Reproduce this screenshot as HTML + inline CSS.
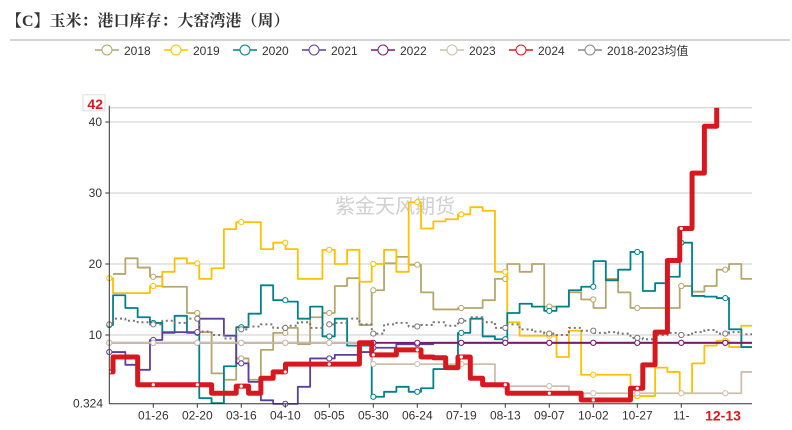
<!DOCTYPE html>
<html><head><meta charset="utf-8">
<style>
body{margin:0;background:#fff;width:792px;height:430px;overflow:hidden;font-family:"Liberation Sans","Noto Sans CJK SC",sans-serif;}
#title{position:absolute;left:6px;top:8px;font-size:16px;font-weight:bold;color:#333;font-family:"Liberation Serif","Noto Serif CJK SC",serif;}
</style></head><body>
<div id="title">【C】玉米：港口库存：大窑湾港（周）</div>
<svg id="chart" width="792" height="430" style="position:absolute;left:0;top:0"></svg>
<script>
const years=["2018","2019","2020","2021","2022","2023","2024","2018-2023均值"];
const colors=["#b5a66b","#ffc000","#00818a","#5b3fa0","#7a1a6e","#cdbfae","#d7191f","#777777"];
const s2018=[null,18.6,20.8,19.5,18.2,16.8,16.8,13.1,10.4,4.6,3.7,6.7,3.7,7.9,10.3,11,8.7,12.5,13.1,16.9,18,11.4,16.3,20.1,21,19.9,16,13.6,13.6,13.8,13.8,14.9,17.9,20,18.9,20,14,14,16,15,13.8,17.9,16,13.8,13.8,13.8,13.8,16.9,16.1,16.9,19.2,20,17.9];
const s2019=[18,15.9,15.9,15.9,16.9,18.9,20.8,20.1,17.9,19.4,24.9,25.9,25.9,22.1,23,22.1,17.9,17.9,22,20,22,17.5,20,22,18.9,28.7,25,26,26.3,27,28,27.5,18.9,11.8,9.9,9.9,9.9,6.9,10.6,4.4,4.4,4.4,4.4,1.4,1.4,5.4,4.8,1.8,6,8.5,9.2,8.3,11.3];
const s2020=[11.4,15.6,13.8,12.5,11.7,10.3,12.7,10.3,1.1,0.4,5.6,11.1,13,17,14.9,14.7,12.3,14,9.8,12.3,8.5,8.5,1.3,2,2.7,2,2.5,5.2,5.2,10.3,12.3,9.8,9.4,13.1,14.4,14,13.4,14,16.3,16.8,20.4,17.7,19.2,21.7,16.2,17.3,18.2,23,15.5,15.4,15.2,10.8,8.3];
const s2021=[7.6,7.6,5.8,5.1,9.3,10.4,10.4,10.4,12.3,12.3,9.9,6,3.4,0.8,0.3,0.3,2.7,6.7,6.7,7.2,7.2,7.6,8.2,8.2,8.7,8.7,8.7,8.9,8.9,8.9,8.9,8.9,8.9,8.9,8.9,8.9,8.9,8.9,8.9,8.9,8.9,8.9,8.9,8.9,8.9,8.9,8.9,8.9,8.9,8.9,8.9,8.9,8.9];
const s2022=[8.9,8.9,8.9,8.9,8.9,8.9,8.9,8.9,8.9,8.9,8.9,8.9,8.9,8.9,8.9,8.9,8.9,8.9,8.9,8.9,8.9,8.9,8.9,8.9,8.9,8.9,8.9,8.9,8.9,8.9,8.9,8.9,8.9,8.9,8.9,8.9,8.9,8.9,8.9,8.9,8.9,8.9,8.9,8.9,8.9,8.9,8.9,8.9,8.9,8.9,8.9,8.9,8.9];
const s2023=[8.9,8.9,8.9,8.9,8.9,8.9,8.9,8.9,8.9,8.9,8.9,8.9,8.9,8.9,8.9,8.9,8.9,8.9,8.9,8.9,8.9,8.9,5.9,5.9,5.9,5.9,5.9,5.9,5.9,5.9,5.9,5.9,2.8,2.8,2.8,2.8,2.8,2.8,1.8,1.8,1.8,1.8,1.8,1.8,1.8,1.8,1.8,1.8,1.8,1.8,1.8,1.8,4.8];
const s2024=[4.8,6.9,6.9,3,3,3,3,3,3,1.8,1.8,2.8,1.8,3.9,4.8,5.9,5.9,5.9,5.9,5.9,5.9,8.9,7.2,7.2,7.9,7.9,6.9,6.8,5.4,6.9,3.9,3,3,1.8,1.8,1.8,1.8,1.8,1.8,0.85,0.85,0.85,0.85,2.5,5.8,10.4,20.5,25,32.8,39.4,42];
const sAvg=[11.5,12.3,12,11.8,11.5,12,11.7,12.3,10.5,10,9.5,10.8,11.2,11.5,11,11.3,11.8,11,11.5,11.7,12.3,11.5,10.2,11.5,11.7,11.2,11.4,11.8,11.3,12,12.5,11.8,11,11.5,10.8,10.5,10.2,10,11,10.6,10.3,10.4,10.2,9.6,9.4,10,10.3,10,10.4,10.7,10.2,10.4,10.1];
const yTicks=[10,20,30,40];
const xTickLabels=["01-26","02-20","03-16","04-10","05-05","05-30","06-24","07-19","08-13","09-07","10-02","10-27","11-"];
const yMin=0.324, yMax=42;

const svg=document.getElementById('chart');
const NS="http://www.w3.org/2000/svg";
const L=109.3,R=752,T=107.8,B=403.7;
function Y(v){return 335-(v-10)*7.1;}
function XW(i){return 100.7+12.32*i;}
function XD(d){return L+d*1.76;}
function mk(tag,attrs,parent){const e=document.createElementNS(NS,tag);for(const k in attrs)e.setAttribute(k,attrs[k]);(parent||svg).appendChild(e);return e;}

// divider
let e=mk('line',{x1:10,y1:40,x2:790,y2:40,stroke:'#aaa','stroke-width':1});



// legend
const lg=mk('g',{});


const lx=[95,164,233,302,371,440,509,578];
years.forEach((y,i)=>{
  const g=mk('g',{style:'cursor:pointer'},lg);
  
  
  const c=i==7?'#888':colors[i];
  mk('line',{x1:lx[i],y1:50,x2:lx[i]+24,y2:50,stroke:c,'stroke-width':1.5},g);
  mk('circle',{cx:lx[i]+12,cy:50,r:5,fill:'#fff',stroke:c,'stroke-width':1},g);
  const t=mk('text',{x:lx[i]+29,y:55,'font-size':12,fill:'#333'},g);t.textContent=y;
});

// grid
const grid=mk('g',{});


[...yTicks,yMax].forEach(v=>{mk('line',{x1:L,x2:R,y1:Y(v),y2:Y(v),stroke:'#ccc','stroke-width':1},grid);});
// y labels
yTicks.forEach(v=>{
  const t=mk('text',{x:102,y:Y(v)+4,'font-size':12,fill:'#333','text-anchor':'end'});
  t.textContent=v;
  
  
  mk('line',{x1:L-4,x2:L,y1:Y(v),y2:Y(v),stroke:'#333'});
});
let mb=mk('rect',{x:83,y:Y(yMax)-13,width:22,height:16,fill:'#fff',stroke:'#ddd'});
let mt=mk('text',{x:103,y:Y(yMax)+1,'font-size':14,'font-weight':'bold',fill:'#d7191f','text-anchor':'end'});
mt.textContent='42';


let mn=mk('text',{x:103,y:B+4,'font-size':12,fill:'#333','text-anchor':'end'});
mn.textContent=String(yMin);



// watermark
let wm=mk('text',{x:395,y:213,'font-size':20,fill:'#cfcfcf','text-anchor':'middle'});
wm.textContent='紫金天风期货';



// series
const clip=mk('clipPath',{id:'pc'});mk('rect',{x:L,y:0,width:R-L,height:430},clip);
const seriesData=[s2018,s2019,s2020,s2021,s2022,s2023,sAvg,s2024];
const seriesIdx=[0,1,2,3,4,5,7,6];
function valAt(arr,x){const i=Math.floor((x-100.7)/12.32);return arr[Math.max(0,Math.min(arr.length-1,i))];}
seriesData.forEach((arr,k)=>{
  const idx=seriesIdx[k];const c=colors[idx];
  let d='';let started=false;
  for(let i=0;i<arr.length;i++){
    if(arr[i]==null){started=false;continue;}
    const x=XW(i),y=Y(arr[i]);
    if(!started){d+=`M${x},${y}`;started=true;}else d+=`V${y}`;
    if(i<arr.length-1 || idx!=6) d+=`H${XW(i+1)}`;
  }
  const p=mk('path',{d:d,fill:'none',stroke:c,'stroke-width':idx==6?5:(idx==7?2:1.8),'stroke-dasharray':idx==7?'2,3':'none','clip-path':'url(#pc)','stroke-linejoin':'round'});
  
  
  // markers
  for(let j=0;j<15;j++){
    const x=XD(25*j)+(j==0?0:0);
    if(x>R) break;
    if(idx==6 && x>718) break;
    const v=valAt(arr,x);if(v==null)continue;
    const m=mk('circle',{cx:x,cy:Y(v),r:idx==6?1.6:2.6,fill:'#fff',stroke:idx==6?'none':c,'stroke-width':1});
    
    
  }
});

// axes
let ya=mk('line',{x1:L,x2:L,y1:T-2,y2:B,stroke:'#333','stroke-width':1});


let xa=mk('line',{x1:L,x2:R,y1:B,y2:B,stroke:'#333','stroke-width':1});


xTickLabels.forEach((lab,j)=>{
  const x=XD(25*(j+1));
  mk('line',{x1:x,x2:x,y1:B,y2:B+4,stroke:'#333'});
  const t=mk('text',{x:x,y:B+16,'font-size':12,fill:'#333','text-anchor':'middle'});
  t.textContent=lab;
  
  
});
let lt=mk('text',{x:723,y:B+17,'font-size':14,'font-weight':'bold',fill:'#d7191f','text-anchor':'middle'});
lt.textContent='12-13';


</script>
</body></html>
